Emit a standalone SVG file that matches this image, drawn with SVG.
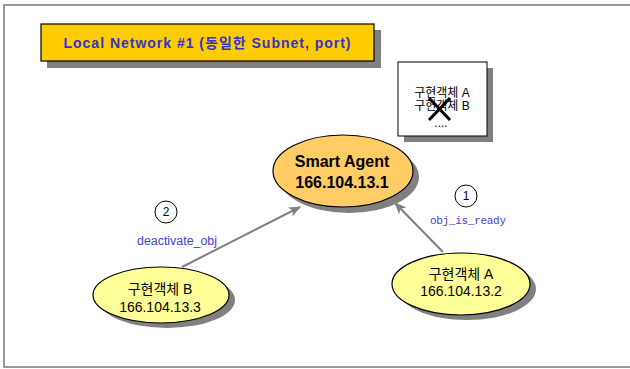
<svg xmlns="http://www.w3.org/2000/svg" width="630" height="369" viewBox="0 0 630 369">
<style>
.shadow{fill:#808080;stroke:none}
.frame{fill:#fff;stroke:#999;stroke-width:2}
.title{fill:#FFCC00;stroke:#000;stroke-width:1.2}
.agent{fill:#FFCC66;stroke:#000;stroke-width:1.2}
.obj{fill:#FFFF99;stroke:#000;stroke-width:1.2}
.box{fill:#fff;stroke:#000;stroke-width:1}
.ttl{font-family:"Liberation Sans","Noto Sans CJK KR",sans-serif;font-weight:bold;font-size:14px;fill:#3333CC}
.ag{font-family:"Liberation Sans",sans-serif;font-weight:bold;font-size:16px;fill:#000}
.ob{font-family:"Liberation Sans","Noto Sans CJK KR",sans-serif;font-size:14px;fill:#000}
.bx{font-family:"Liberation Sans","Noto Sans CJK KR",sans-serif;font-size:12px;fill:#000}
.lbl{font-family:"Liberation Sans",sans-serif;font-size:12px;fill:#4444CC}
.lblm{font-family:"Liberation Mono",monospace;font-size:11px;fill:#4444CC}
.num{font-family:"Liberation Sans",sans-serif;font-size:12px;fill:#000}
.conn{stroke:#808080;stroke-width:2;fill:none}
</style>
<defs>
<marker id="ah" markerWidth="12" markerHeight="10" refX="11" refY="5" orient="auto" markerUnits="userSpaceOnUse">
<path d="M0,0 L12,5 L0,10 L3,5 Z" fill="#808080"/>
</marker>
</defs>
<rect x="0" y="0" width="630" height="369" fill="#fff"/>
<rect class="frame" x="4" y="5" width="640" height="362"/>

<g id="title">
<rect class="shadow" x="47" y="30" width="334" height="38"/>
<rect class="title" x="41" y="24" width="333" height="37"/>
<text class="ttl" x="207" y="48" text-anchor="middle" textLength="287" lengthAdjust="spacing">Local Network #1 (동일한 Subnet, port)</text>
</g>

<g id="registry">
<rect class="shadow" x="404" y="68" width="89" height="74"/>
<rect class="box" x="398" y="62" width="89" height="74"/>
<text class="bx" x="442" y="97" text-anchor="middle">구현객체 A</text>
<text class="bx" x="442" y="110" text-anchor="middle">구현객체 B</text>
<text class="bx" x="441" y="127" text-anchor="middle" font-size="10">....</text>
<path d="M429,98 L450,120 M450,98 L429,120" stroke="#000" stroke-width="3"/>
</g>

<g id="agent">
<ellipse class="shadow" cx="349" cy="177" rx="70" ry="36"/>
<ellipse class="agent" cx="343" cy="171" rx="70" ry="36"/>
<text class="ag" x="342" y="167" text-anchor="middle">Smart Agent</text>
<text class="ag" x="342" y="188" text-anchor="middle">166.104.13.1</text>
</g>

<g id="objB">
<ellipse class="shadow" cx="167" cy="300" rx="68" ry="28"/>
<ellipse class="obj" cx="161" cy="295" rx="68" ry="28"/>
<text class="ob" x="160" y="294" text-anchor="middle">구현객체 B</text>
<text class="ob" x="160" y="312" text-anchor="middle">166.104.13.3</text>
</g>

<g id="objA">
<ellipse class="shadow" cx="467" cy="289" rx="69" ry="31"/>
<ellipse class="obj" cx="461" cy="284" rx="69" ry="31"/>
<text class="ob" x="461" y="279" text-anchor="middle">구현객체 A</text>
<text class="ob" x="461" y="296" text-anchor="middle">166.104.13.2</text>
</g>

<g id="connectors">
<line class="conn" x1="182" y1="267" x2="300" y2="207" marker-end="url(#ah)"/>
<line class="conn" x1="443" y1="252" x2="395" y2="203" marker-end="url(#ah)"/>
</g>

<g id="labels">
<circle cx="166" cy="212" r="11" fill="#fff" stroke="#000" stroke-width="1"/>
<text class="num" x="166" y="216" text-anchor="middle">2</text>
<text class="lbl" x="177" y="245" text-anchor="middle" textLength="80" lengthAdjust="spacingAndGlyphs">deactivate_obj</text>
<circle cx="466" cy="196" r="11" fill="#fff" stroke="#000" stroke-width="1"/>
<text class="num" x="466" y="200" text-anchor="middle">1</text>
<text class="lblm" x="468" y="224" text-anchor="middle" textLength="76" lengthAdjust="spacing">obj_is_ready</text>
</g>
</svg>
